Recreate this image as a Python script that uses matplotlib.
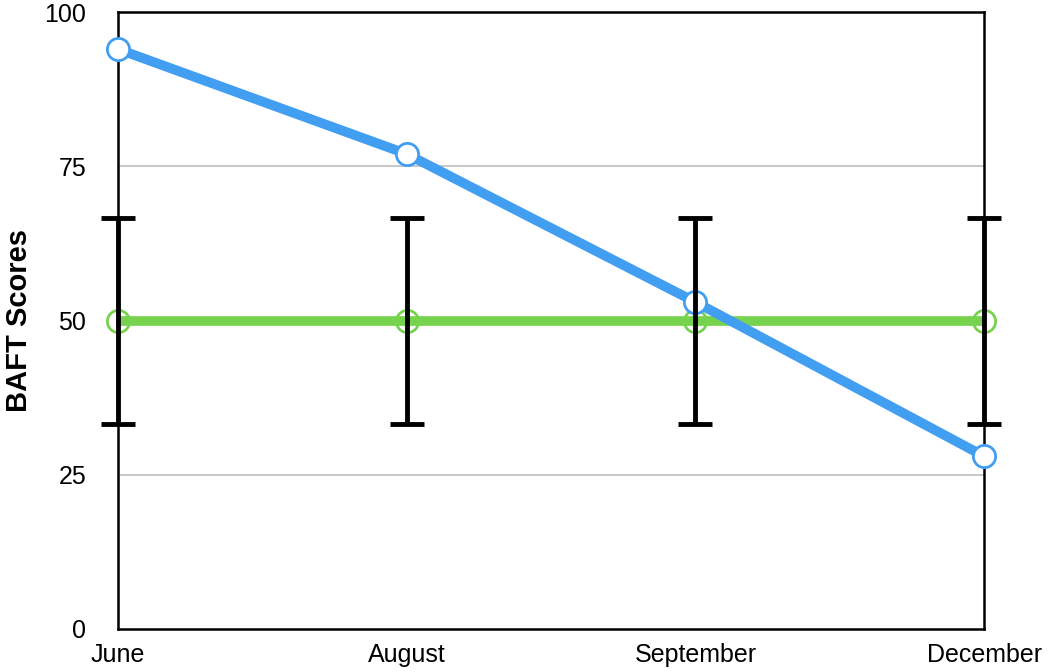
import matplotlib
matplotlib.use('Agg')
import matplotlib.pyplot as plt

plt.rcParams['font.family'] = ['Liberation Sans', 'DejaVu Sans']

# data
months = ['June', 'August', 'September', 'December']
baft = [94, 77, 53, 28]
baseline = [50, 50, 50, 50]
err = [16.7, 16.7, 16.7, 16.7]

x = list(range(len(months)))

fig = plt.figure(figsize=(10.48, 6.72), dpi=100)
ax = fig.add_axes([0.1126, 0.064, 0.8264, 0.918])

# grid lines
for yv in [25, 75]:
    ax.axhline(yv, color='#bdbdbd', lw=1.2, zorder=0)

# green baseline
ax.plot(x, baseline, color='#77d24d', lw=7, zorder=2, solid_capstyle='butt', clip_on=False)
ax.plot(x, baseline, 'o', ms=16, mfc='none', mec='#77d24d', mew=2, zorder=2, clip_on=False)

# blue series
ax.plot(x, baft, color='#429ef0', lw=7, zorder=3, solid_capstyle='butt', clip_on=False)
ax.plot(x, baft, 'o', ms=16, mfc='white', mec='#429ef0', mew=2, zorder=4, clip_on=False)

# error bars
eb = ax.errorbar(x, baseline, yerr=err, fmt='none', ecolor='black', elinewidth=3.5,
                 capsize=12, capthick=3.5, zorder=5)
for c in eb.lines[1]:
    c.set_clip_on(False)
for c in eb.lines[2]:
    c.set_clip_on(False)

ax.set_xlim(0, 3)
ax.set_ylim(0, 100)
ax.set_yticks([0, 25, 50, 75, 100])
ax.set_xticks(x)
ax.set_xticklabels(months)
ax.tick_params(length=0, labelsize=18, pad=10)
ax.tick_params(axis='y', pad=23)
for s in ax.spines.values():
    s.set_linewidth(1.8)
    s.set_color('black')
    s.set_zorder(1)

ax.set_ylabel('BAFT Scores', fontsize=21, fontweight='bold', labelpad=8)

fig.savefig('out.png', dpi=100)
